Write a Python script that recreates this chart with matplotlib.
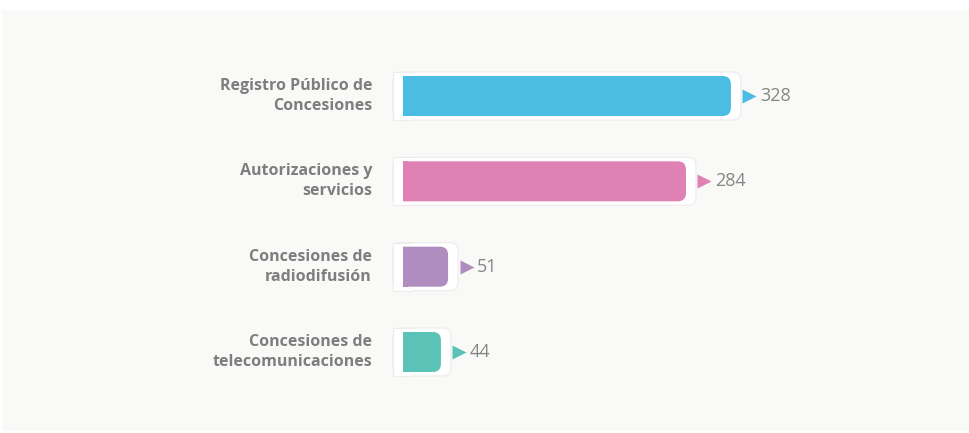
import matplotlib.pyplot as plt
from matplotlib.patches import FancyBboxPatch, Rectangle

categories = ["Registro Público de\nConcesiones", "Autorizaciones y\nservicios",
              "Concesiones de\nradiodifusión", "Concesiones de\ntelecomunicaciones"]
values = [328, 284, 51, 44]
colors = ["#4bbce2", "#e081b4", "#b08dbf", "#5bc2b7"]

W, H = 969, 433
fig = plt.figure(figsize=(W / 100, H / 100), dpi=100)
fig.patch.set_facecolor("white")

# light panel behind everything
fig.patches.append(Rectangle((2 / W, 2 / H), 1, 421 / H, transform=fig.transFigure,
                             facecolor="#f9f9f7", edgecolor="none", zorder=-5))

# axes: x in data units (~1.02 px per unit), origin at pixel 396
x0 = 396
pxu = 1.021
ax = fig.add_axes([x0 / W, 0, (W - x0) / W, 1])
ax.set_zorder(2)
ax.set_xlim(0, (W - x0) / pxu)
ppu = 85.33  # pixels between category rows
top = 96
ax.set_ylim((H - top) / ppu, -top / ppu)
ax.axis("off")
ax.patch.set_alpha(0)

asp = pxu / ppu
bar_h = 40 / ppu
box_h = 48 / ppu
px = lambda p: p / pxu  # pixel offset -> data units

for i, (v, c) in enumerate(zip(values, colors)):
    # white frame around the bar
    fx = px(-3)
    ax.add_patch(FancyBboxPatch((fx, i - box_h / 2), v + px(13), box_h,
                                boxstyle="round,pad=0,rounding_size=8", mutation_aspect=asp,
                                facecolor="white", edgecolor="#ececec", lw=0.8, zorder=1,
                                clip_on=False))
    ax.add_patch(Rectangle((fx, i - box_h / 2), px(20), box_h, facecolor="white",
                           edgecolor="#ececec", lw=0.8, zorder=1.1, clip_on=False))
    ax.add_patch(Rectangle((fx + 1, i - box_h / 2 + 0.01), px(24), box_h - 0.02,
                           facecolor="white", edgecolor="none", zorder=1.2, clip_on=False))
    # bar, rounded on the right side only
    ax.add_patch(FancyBboxPatch((0, i - bar_h / 2), v, bar_h,
                                boxstyle="round,pad=0,rounding_size=8", mutation_aspect=asp,
                                facecolor=c, edgecolor="none", zorder=2))
    ax.add_patch(Rectangle((0, i - bar_h / 2), min(12, v), bar_h, facecolor=c,
                           edgecolor="none", zorder=2))
    # left white margin inside the frame
    ax.add_patch(Rectangle((fx + 0.5, i - box_h / 2 + 0.01), px(9), box_h - 0.02,
                           facecolor="white", edgecolor="none", zorder=2.5, clip_on=False))
    # pointer triangle + value
    ax.plot(v + px(18.5), i, marker=">", ms=9.5, color=c, mec="none", zorder=3)
    ax.text(v + px(29), i, str(v), va="center", ha="left", fontsize=13,
            color="#858585", family="Open Sans", zorder=3)
    # category label
    ax.text(px(-24), i, categories[i], va="center", ha="right", fontsize=11.5,
            color="#7e7e7e", family="Open Sans", fontweight="bold", linespacing=1.35,
            clip_on=False)

fig.savefig("out.png", dpi=100, facecolor=fig.get_facecolor())
